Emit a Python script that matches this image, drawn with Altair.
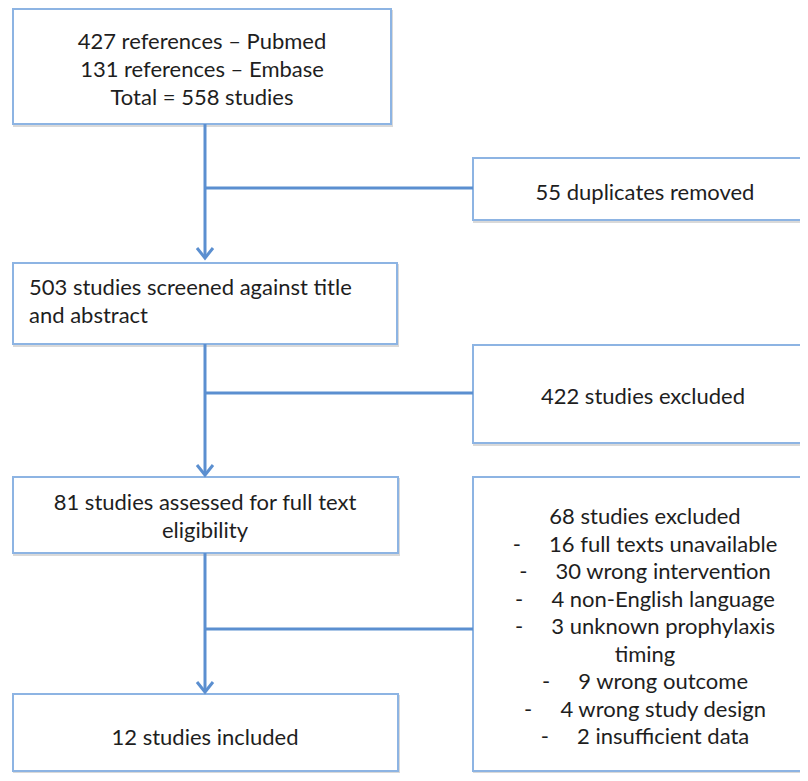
import altair as alt
import pandas as pd

# ---------------- content ----------------
box_ids = ["search", "dupes", "screen", "excl1", "full", "excl2", "incl"]
GAP = "\u00a0" * 5
box_lines = [
    ["427 references \u2013 Pubmed", "131 references \u2013 Embase", "Total = 558 studies"],
    ["55 duplicates removed"],
    ["503 studies screened against title", "and abstract"],
    ["422 studies excluded"],
    ["81 studies assessed for full text", "eligibility"],
    ["68 studies excluded",
     "-" + GAP + "16 full texts unavailable",
     "-" + GAP + "30 wrong intervention",
     "-" + GAP + "4 non-English language",
     "-" + GAP + "3 unknown prophylaxis",
     "timing",
     "-" + GAP + "9 wrong outcome",
     "-" + GAP + "4 wrong study design",
     "-" + GAP + "2 insufficient data"],
    ["12 studies included"],
]

# ---------------- layout (page pixel coordinates) ----------------
box_x1 = [13, 473, 13, 473, 13, 473, 13]
box_x2 = [391, 820, 397, 820, 398, 820, 398]
box_y1 = [9, 158, 263, 345, 477, 477, 694]
box_y2 = [124, 220, 344, 443, 553, 771, 771]
text_x = [202, 645, 29, 643, 205, 645, 205]
text_y0 = [42, 193, 288, 397, 503, 517, 738]
text_dy = [28, 28, 28, 28, 28, 27.5, 28]
text_align = ["center", "center", "left", "center", "center", "center", "center"]

# connectors: main vertical segments and side branches
seg_x1 = [205, 205, 205, 205, 205, 205]
seg_y1 = [124, 344, 553, 188, 393, 629]
seg_x2 = [205, 205, 205, 473, 473, 473]
seg_y2 = [257, 474, 691, 188, 393, 629]
arrow_tip_y = [258, 475, 692]
arrow_x = 205

LINE = "#5b8fd0"
BORDER = "#8db4e3"
TEXT = "#1e1e1e"
FONT = "Lato"

boxes = pd.DataFrame({"id": box_ids, "x1": box_x1, "x2": box_x2, "y1": box_y1, "y2": box_y2})
shadow = boxes.assign(x1=boxes["x1"] + 1, x2=boxes["x2"] + 1, y1=boxes["y1"] + 2, y2=boxes["y2"] + 2)

rows = []
for i, lines in enumerate(box_lines):
    for j, t in enumerate(lines):
        rows.append({"text": t, "x": text_x[i], "y": text_y0[i] + j * text_dy[i], "al": text_align[i]})
texts = pd.DataFrame(rows)

segs = pd.DataFrame({"x1": seg_x1, "y1": seg_y1, "x2": seg_x2, "y2": seg_y2})

arr_rows = []
for k, ty in enumerate(arrow_tip_y):
    arr_rows += [
        {"g": k, "o": 0, "x": arrow_x - 8, "y": ty - 10},
        {"g": k, "o": 1, "x": arrow_x, "y": ty},
        {"g": k, "o": 2, "x": arrow_x + 8, "y": ty - 10},
    ]
arrows = pd.DataFrame(arr_rows)

# plot area spans page pixels 8..800 x 8..773
xs = alt.Scale(domain=[8, 800], nice=False, zero=False)
ys = alt.Scale(domain=[8, 773], nice=False, zero=False, reverse=True)

def X(f):
    return alt.X(f, type="quantitative", scale=xs, axis=None)

def Y(f):
    return alt.Y(f, type="quantitative", scale=ys, axis=None)

shadow_l = alt.Chart(shadow).mark_rect(fill="white", stroke="#d9d9d9", strokeWidth=2, clip=True).encode(
    x=X("x1"), x2="x2", y=Y("y1"), y2="y2")
box_l = alt.Chart(boxes).mark_rect(fill="white", stroke=BORDER, strokeWidth=2, clip=True).encode(
    x=X("x1"), x2="x2", y=Y("y1"), y2="y2")
seg_l = alt.Chart(segs).mark_rule(color=LINE, strokeWidth=3, strokeCap="butt").encode(
    x=X("x1"), x2="x2", y=Y("y1"), y2="y2")
arr_l = alt.Chart(arrows).mark_line(color=LINE, strokeWidth=3, strokeJoin="miter").encode(
    x=X("x"), y=Y("y"), detail="g:N", order="o:Q")

text_layers = []
for al in ["center", "left"]:
    sub = texts[texts["al"] == al]
    text_layers.append(
        alt.Chart(sub).mark_text(align=al, baseline="middle", font=FONT, fontSize=22, color=TEXT).encode(
            x=X("x"), y=Y("y"), text="text:N"))

chart = alt.layer(shadow_l, box_l, seg_l, arr_l, *text_layers).properties(
    width=792, height=765, padding=0, autosize=alt.AutoSizeParams(type="none"),
    background="white",
).configure_view(strokeWidth=0)

chart.save("out.html", embed_options={"renderer": "svg", "actions": False})
